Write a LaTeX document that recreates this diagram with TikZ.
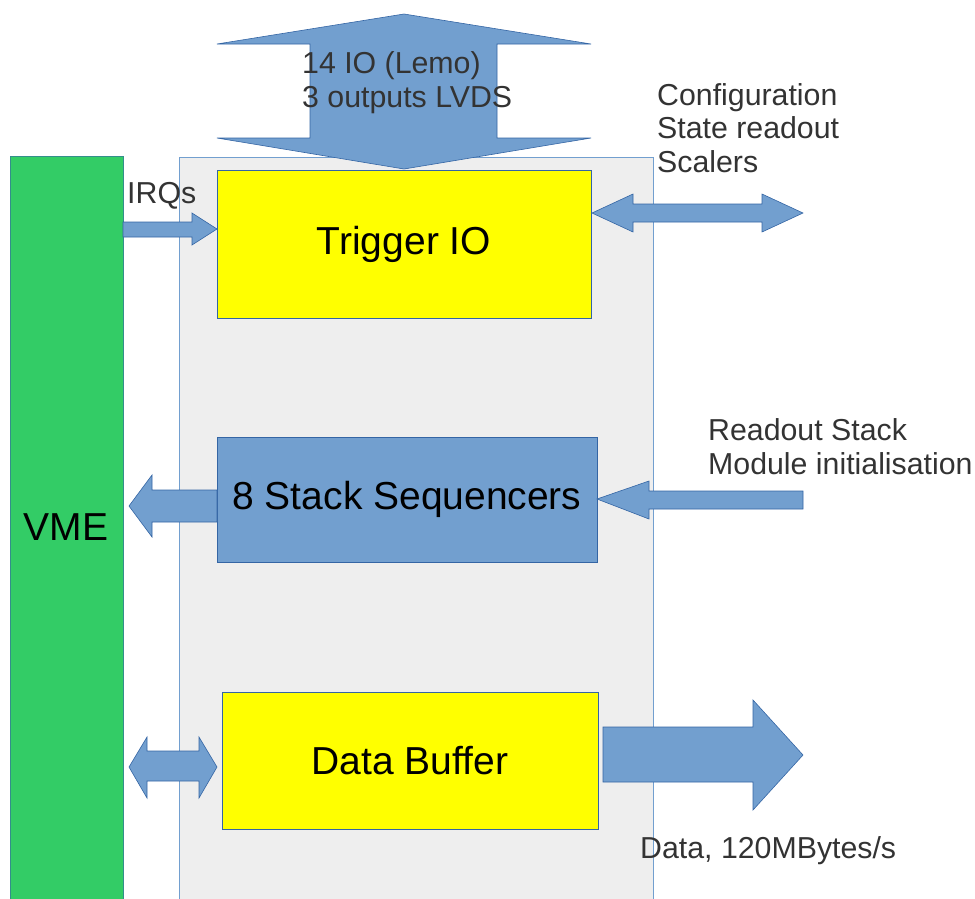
\documentclass[tikz,border=0pt]{standalone}
\usepackage{fontspec}
\setmainfont{Liberation Sans}
\definecolor{arrowfill}{HTML}{729FCF}
\definecolor{arrowline}{HTML}{3465A4}
\definecolor{greybg}{HTML}{EEEEEE}
\definecolor{vmegreen}{HTML}{33CC66}
\definecolor{boxyellow}{RGB}{255,255,0}
\definecolor{labeltext}{HTML}{333333}
\begin{document}
\begin{tikzpicture}[x=1pt,y=-1pt,
  blockarrow/.style={fill=arrowfill, draw=arrowline, line width=0.6pt, line join=miter},
  ybox/.style={draw=arrowline, line width=0.6pt, fill=boxyellow, font=\fontsize{39}{46}\selectfont, text=black, inner sep=0pt},
  bbox/.style={draw=arrowline, line width=0.6pt, fill=arrowfill, font=\fontsize{39}{46}\selectfont, text=black, inner sep=0pt},
  lbl/.style={font=\fontsize{30.3}{33.5}\selectfont, text=labeltext, inner sep=0pt, align=left}]
\useasboundingbox (0,0) rectangle (975,898);
% background module box
\node[draw=arrowfill, line width=0.8pt, fill=greybg, minimum width=474pt, minimum height=745pt, inner sep=0pt, anchor=north west] (fpga) at (179,157) {};
% VME bus
\node[draw=arrowline!60!vmegreen, line width=0.6pt, fill=vmegreen, minimum width=113pt, minimum height=745pt, inner sep=0pt, anchor=north west] (vme) at (10,156) {};
\node[font=\fontsize{39}{46}\selectfont, text=black] (vmelabel) at (66,527) {VME};
% top double arrow (14 IO)
\draw[blockarrow] (404,14) -- (591,44) -- (497,44) -- (497,138) -- (591,138) -- (404,169)
  -- (217,138) -- (310,138) -- (310,44) -- (217,44) -- cycle;
% boxes
\node[ybox, minimum width=374pt, minimum height=148pt] (trig) at (404,244) {Trigger IO};
\node[bbox, minimum width=380pt, minimum height=125pt] (stack) at (407,499.5) {8 Stack Sequencers};
\node[ybox, minimum width=376pt, minimum height=137pt] (buf) at (410,760.5) {Data Buffer};
% IRQ arrow
\draw[blockarrow] (123,222) -- (192,222) -- (192,213) -- (217,229) -- (192,245) -- (192,237) -- (123,237) -- cycle;
% configuration double arrow
\draw[blockarrow] (592,213) -- (633,194) -- (633,204) -- (762,204) -- (762,194) -- (803,213)
  -- (762,232) -- (762,222) -- (633,222) -- (633,232) -- cycle;
% stack -> VME arrow
\draw[blockarrow] (129,506) -- (152,475) -- (152,490) -- (217,490) -- (217,522) -- (152,522) -- (152,537) -- cycle;
% readout -> stack arrow
\draw[blockarrow] (597,499) -- (649,481) -- (649,491) -- (803,491) -- (803,509) -- (649,509) -- (649,519) -- cycle;
% VME <-> data buffer double arrow
\draw[blockarrow] (129,767) -- (147,737) -- (147,751) -- (199,751) -- (199,737) -- (217,767)
  -- (199,798) -- (199,781) -- (147,781) -- (147,798) -- cycle;
% data out arrow
\draw[blockarrow] (603,727) -- (753,727) -- (753,700) -- (803,755) -- (753,810) -- (753,782) -- (603,782) -- cycle;
% labels (base anchor = baseline of the last line)
\node[lbl, anchor=base west] (iolbl) at (302,107) {14 IO (Lemo)\\3 outputs LVDS};
\node[lbl, anchor=base west] (cfglbl) at (657,172) {Configuration\\State readout\\Scalers};
\node[lbl, anchor=base west] (irqlbl) at (127,203) {IRQs};
\node[lbl, anchor=base west] (rolbl) at (708,474) {Readout Stack\\Module initialisation};
\node[lbl, anchor=base west] (datalbl) at (640,858) {Data, 120MBytes/s};
\end{tikzpicture}
\end{document}
